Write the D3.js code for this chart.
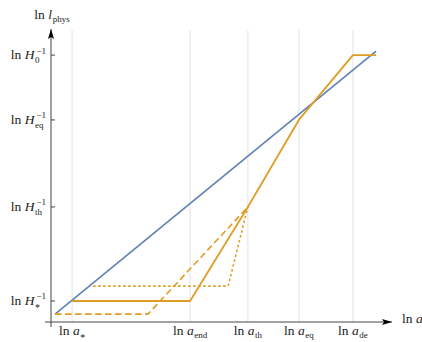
<!DOCTYPE html>
<html>
<head>
<meta charset="utf-8">
<script src="https://cdn.jsdelivr.net/npm/d3@7"></script>
<style>
  body { margin: 0; background: #fff; }
  svg { display: block; }
</style>
</head>
<body>
<svg width="422" height="342"></svg>
<script>
// positions on the ln a axis (abstract units) and their labels
var xTickVals = [6.2, 40.9, 57.9, 72.9, 88.8];
var xTickSubs = ['*', 'end', 'th', 'eq', 'de'];

// positions on the ln l_phys axis and their labels
var yTickVals = [7.2, 39.4, 69.2, 91.4];
var yTickSubs = ['*', 'th', 'eq', '0'];

// blue: physical length of a mode
var modeLine = [[1.2, 2.7], [95.6, 92.8]];
// orange: Hubble radius, three scenarios
var hubbleSolid = [[6.2, 7.2], [40.9, 7.2], [57.9, 39.4], [72.9, 69.2], [88.8, 91.4], [95.6, 91.4]];
var hubbleDashed = [[1.2, 2.7], [28.5, 2.7], [57.9, 39.4]];
var hubbleDotted = [[12.4, 12.3], [52.1, 12.3], [57.9, 39.4]];

var blue = '#5e81b5';
var orange = '#e19c24';
var font = '"Liberation Serif", "Times New Roman", serif';

var svg = d3.select('svg');

var x = d3.scaleLinear().domain([0, 100]).range([51, 391]);
var y = d3.scaleLinear().domain([0, 100]).range([322, 30]);

var line = d3.line()
    .x(d => x(d[0]))
    .y(d => y(d[1]));

// vertical grid lines
svg.append('g')
    .selectAll('line')
    .data(xTickVals)
    .enter().append('line')
    .attr('x1', d => x(d)).attr('x2', d => x(d))
    .attr('y1', 30).attr('y2', y(0))
    .attr('stroke', '#e3e3e3')
    .attr('stroke-width', 1);

// axes
svg.append('defs').append('marker')
    .attr('id', 'arrow')
    .attr('viewBox', '0 0 10 6')
    .attr('refX', 10).attr('refY', 3)
    .attr('markerWidth', 10).attr('markerHeight', 6)
    .attr('markerUnits', 'userSpaceOnUse')
    .attr('orient', 'auto')
    .append('path')
    .attr('d', 'M0,0 L10,3 L0,6 L2,3 Z')
    .attr('fill', '#000');

svg.append('line')
    .attr('x1', 45).attr('x2', 392)
    .attr('y1', y(0)).attr('y2', y(0))
    .attr('stroke', '#444').attr('stroke-width', 1)
    .attr('marker-end', 'url(#arrow)');

svg.append('line')
    .attr('x1', x(0)).attr('x2', x(0))
    .attr('y1', 327).attr('y2', 29)
    .attr('stroke', '#444').attr('stroke-width', 1)
    .attr('marker-end', 'url(#arrow)');

// y ticks
svg.append('g')
    .selectAll('line')
    .data(yTickVals)
    .enter().append('line')
    .attr('x1', x(0)).attr('x2', x(0) + 4)
    .attr('y1', d => y(d)).attr('y2', d => y(d))
    .attr('stroke', '#444');

// curves
svg.append('path').attr('d', line(modeLine))
    .attr('fill', 'none').attr('stroke', blue).attr('stroke-width', 1.6);
svg.append('path').attr('d', line(hubbleDashed))
    .attr('fill', 'none').attr('stroke', orange).attr('stroke-width', 1.6)
    .attr('stroke-dasharray', '6.5,3.5');
svg.append('path').attr('d', line(hubbleDotted))
    .attr('fill', 'none').attr('stroke', orange).attr('stroke-width', 1.6)
    .attr('stroke-dasharray', '2.5,2.5');
svg.append('path').attr('d', line(hubbleSolid))
    .attr('fill', 'none').attr('stroke', orange).attr('stroke-width', 1.8)
    .attr('stroke-linejoin', 'round');

function piece(g, px, py, size, str, italic) {
    return g.append('text')
        .attr('x', px).attr('y', py)
        .attr('font-family', font)
        .attr('font-size', size)
        .attr('font-style', italic ? 'italic' : 'normal')
        .attr('fill', '#222')
        .text(str);
}

// "ln V_sub^sup" style label, built piece by piece
function mathLabel(px, py, v, sub, sup, anchor) {
    var g = svg.append('g');
    var cx = 0;
    var t = piece(g, cx, 0, 13.5, 'ln', false);
    cx += t.node().getComputedTextLength() + 3.5;
    t = piece(g, cx, 0, 13.5, v, true);
    cx += t.node().getComputedTextLength() + 0.5;
    var w = 0;
    if (sub) {
        // the asterisk sits high in the font, so push it down
        var dy = sub === '*' ? 6 : (sup ? 4 : 3);
        t = piece(g, cx, dy, sub === '*' ? 10 : 9, sub, false);
        w = t.node().getComputedTextLength();
    }
    if (sup) {
        t = piece(g, cx + 1.5, -5.5, 9, sup, false);
        w = Math.max(w, t.node().getComputedTextLength() + 1.5);
    }
    cx += w;
    var shift = anchor === 'end' ? -cx : anchor === 'middle' ? -cx / 2 : 0;
    g.attr('transform', 'translate(' + (px + shift) + ',' + py + ')');
}

xTickVals.forEach((d, i) => mathLabel(x(d), 335, 'a', xTickSubs[i], null, 'middle'));
yTickVals.forEach((d, i) => mathLabel(46, y(d) + 4, 'H', yTickSubs[i], '\u22121', 'end'));

mathLabel(52, 19, 'l', 'phys', null, 'middle');
mathLabel(402, 323, 'a', null, null, 'start');
</script>
</body>
</html>
